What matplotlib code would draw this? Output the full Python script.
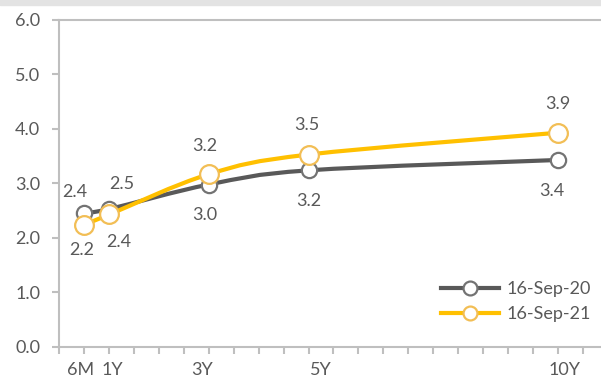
import matplotlib.pyplot as plt
from matplotlib.path import Path
from matplotlib.patches import PathPatch, Rectangle
from matplotlib.lines import Line2D
from matplotlib.transforms import ScaledTranslation
import numpy as np

plt.rcParams['font.family'] = ['Lato', 'DejaVu Sans']

# tenor in years and its label
tenors = [0.5, 1, 3, 5, 10]
tenor_labels = ['6M', '1Y', '3Y', '5Y', '10Y']

# yield curves
sep20 = [2.46, 2.53, 2.98, 3.24, 3.43]
sep21 = [2.24, 2.43, 3.17, 3.53, 3.93]
sep20_labels = ['2.4', '2.5', '3.0', '3.2', '3.4']
sep21_labels = ['2.2', '2.4', '3.2', '3.5', '3.9']

GREY = '#595959'
GREY_EDGE = '#737373'
YELLOW = '#FFC000'
YELLOW_EDGE = '#F2BE55'
TEXT = '#595959'
AXIS = '#BFBFBF'
FS = 13


# Excel style smoothed line as bezier segments through the points
def smooth_path(x, y):
    pts = np.column_stack([x, y]).astype(float)
    n = len(pts)
    verts = [pts[0]]
    codes = [Path.MOVETO]
    for i in range(n - 1):
        p0 = pts[max(i - 1, 0)]
        p1 = pts[i]
        p2 = pts[i + 1]
        p3 = pts[min(i + 2, n - 1)]
        c1 = p1 + (p2 - p0) / 6
        c2 = p2 - (p3 - p1) / 6
        verts += [c1, c2, p2]
        codes += [Path.CURVE4] * 3
    return Path(verts, codes)


fig = plt.figure(figsize=(6.01, 3.77), dpi=100)
fig.patches.append(Rectangle((0, 0.986), 1, 0.014, transform=fig.transFigure,
                             color='#E3E3E3', zorder=0))
ax = fig.add_axes([0.099, 0.080, 0.901, 0.867])

ax.add_patch(PathPatch(smooth_path(tenors, sep20), fill=False, edgecolor=GREY,
                       lw=3, capstyle='round', zorder=2))
ax.add_patch(PathPatch(smooth_path(tenors, sep21), fill=False, edgecolor=YELLOW,
                       lw=3, capstyle='round', zorder=4))
ax.plot(tenors, sep20, 'o', ms=11, mfc='white', mec=GREY_EDGE, mew=1.6, zorder=3)
ax.plot(tenors, sep21, 'o', ms=13.5, mfc='white', mec=YELLOW_EDGE, mew=1.6, zorder=5)

# data labels (offsets in points)
off20 = [(-7, 15), (9, 18), (-3, -22), (0, -22), (-4, -22)]
off21 = [(-2, -18), (7, -20), (-3, 20), (-1, 21), (0, 21)]
for x, y, t, o in zip(tenors, sep20, sep20_labels, off20):
    ax.annotate(t, (x, y), xytext=o, textcoords='offset points', ha='center',
                va='center', fontsize=FS, color=TEXT)
for x, y, t, o in zip(tenors, sep21, sep21_labels, off21):
    ax.annotate(t, (x, y), xytext=o, textcoords='offset points', ha='center',
                va='center', fontsize=FS, color=TEXT)

ax.set_xlim(0, 10.87)
ax.set_ylim(0, 6)
ax.set_yticks(np.arange(0, 7, 1))
ax.set_yticklabels([f'{v:.1f}' for v in np.arange(0, 7, 1)])
ax.set_xticks(tenors)
ax.set_xticklabels(tenor_labels)
ax.set_xticks(np.arange(0, 11, 0.5), minor=True)

for s in ['left', 'bottom', 'top']:
    ax.spines[s].set_color(AXIS)
    ax.spines[s].set_linewidth(1.5)
ax.spines['right'].set_visible(False)
ax.tick_params(axis='y', length=5, width=1.5, color=AXIS, labelsize=FS,
               labelcolor=TEXT, pad=9)
ax.tick_params(axis='x', which='both', length=5, width=1.5, color=AXIS,
               labelsize=FS, labelcolor=TEXT, pad=6)

# nudge tick labels sideways like the original (points), after tick_params
label_shift = [-3, 2, -5, 9, 5]
for tick, dx in zip(ax.xaxis.get_major_ticks(), label_shift):
    lab = tick.label1
    lab.set_transform(lab.get_transform() + ScaledTranslation(dx / 72, 0, fig.dpi_scale_trans))

handles = [
    Line2D([], [], color=GREY, lw=3, marker='o', ms=10, mfc='white', mec=GREY_EDGE, mew=1.6),
    Line2D([], [], color=YELLOW, lw=3, marker='o', ms=10, mfc='white', mec=YELLOW_EDGE, mew=1.6),
]
leg = ax.legend(handles, ['16-Sep-20', '16-Sep-21'], loc='lower right',
                bbox_to_anchor=(1.012, 0.025), frameon=False, fontsize=FS,
                handlelength=3.2, handletextpad=0.45, labelspacing=0.5)
for t in leg.get_texts():
    t.set_color(TEXT)

fig.savefig('out.png', dpi=100)
plt.close(fig)
